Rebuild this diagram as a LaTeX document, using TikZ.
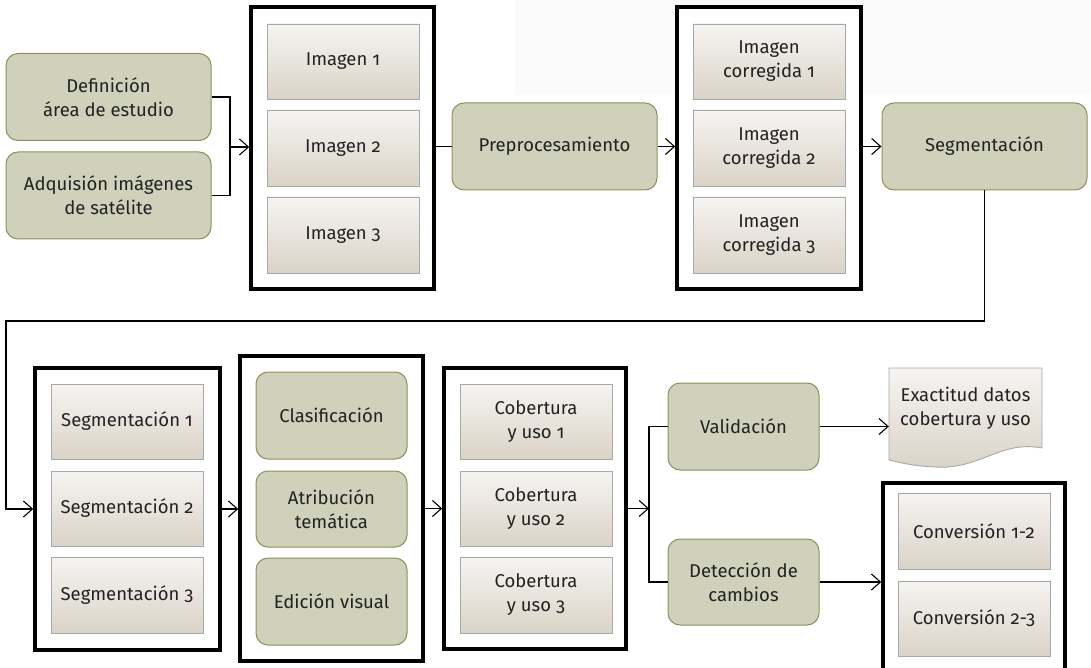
\documentclass[tikz,border=0pt]{standalone}
\usepackage{fontspec}
\setmainfont{Fira Sans}[Numbers=OldStyle]
\usetikzlibrary{arrows.meta,calc}
\definecolor{gfill}{HTML}{CFD1BA}
\definecolor{gdraw}{HTML}{8F8F5A}
\definecolor{itop}{HTML}{F6F4F2}
\definecolor{ibot}{HTML}{DAD3C7}
\definecolor{idraw}{HTML}{A8A8A8}
\definecolor{txt}{HTML}{222222}
\tikzset{
  lbl/.style={align=center, text=txt, font=\fontsize{18.5}{24}\selectfont, inner sep=0pt},
  gbox/.style={lbl, draw=gdraw, fill=gfill, line width=1pt, rounded corners=12pt},
  ibox/.style={lbl, draw=idraw, line width=0.9pt, shading=axis, top color=itop, bottom color=ibot},
  frame/.style={draw=black, line width=3.5pt, fill=white},
  conn/.style={draw=black, line width=1.1pt},
  arr/.style={conn, -{Straight Barb[length=9pt,width=16pt,line width=1.1pt]}},
}
\begin{document}
\begin{tikzpicture}[x=1pt,y=-1pt]
\useasboundingbox (0,0) rectangle (1091,668);
\clip (0,0) rectangle (1091,668);
\fill[black!1.5] (515,0) rectangle (1091,95);
% row 1
\node[gbox, minimum width=205pt, minimum height=87pt] (def) at (108.5,97) {Definición\\área de estudio};
\node[gbox, minimum width=205pt, minimum height=87pt] (adq) at (108.5,195.5) {Adquisión imágenes\\de satélite};
\node[frame, minimum width=183pt, minimum height=282pt] (f1) at (342.5,148) {};
\node[ibox, minimum width=152pt, minimum height=75pt] (i1) at (343,61.5) {Imagen 1};
\node[ibox, minimum width=152pt, minimum height=76pt] (i2) at (343,148) {Imagen 2};
\node[ibox, minimum width=152pt, minimum height=76pt] (i3) at (343,235) {Imagen 3};
\node[gbox, minimum width=205pt, minimum height=87pt] (pre) at (554.5,146.5) {Preprocesamiento};
\node[frame, minimum width=184pt, minimum height=282pt] (f2) at (769,148) {};
\node[ibox, minimum width=152pt, minimum height=75pt] (c1) at (769,61.5) {Imagen\\corregida 1};
\node[ibox, minimum width=152pt, minimum height=76pt] (c2) at (769,148) {Imagen\\corregida 2};
\node[ibox, minimum width=152pt, minimum height=76pt] (c3) at (769,235) {Imagen\\corregida 3};
\node[gbox, minimum width=205pt, minimum height=87pt] (seg) at (984.5,146.5) {Segmentación};
% row 2
\node[frame, minimum width=185pt, minimum height=282pt] (f3) at (127.5,509) {};
\node[ibox, minimum width=152pt, minimum height=75pt] (s1) at (127,421.5) {Segmentación 1};
\node[ibox, minimum width=152pt, minimum height=75pt] (s2) at (127,508.5) {Segmentación 2};
\node[ibox, minimum width=152pt, minimum height=76pt] (s3) at (127,595) {Segmentación 3};
\node[frame, minimum width=183pt, minimum height=305pt] (f4) at (331.5,508.5) {};
\node[gbox, minimum width=151pt, minimum height=87pt] (cla) at (331.5,415.5) {Clasificación};
\node[gbox, minimum width=151pt, minimum height=76pt] (atr) at (331.5,509) {Atribución\\temática};
\node[gbox, minimum width=151pt, minimum height=87pt] (edi) at (331.5,601.5) {Edición visual};
\node[frame, minimum width=182pt, minimum height=281pt] (f5) at (535,508.5) {};
\node[ibox, minimum width=152pt, minimum height=75pt] (u1) at (536,421.5) {Cobertura\\y uso 1};
\node[ibox, minimum width=152pt, minimum height=75pt] (u2) at (536,508.5) {Cobertura\\y uso 2};
\node[ibox, minimum width=152pt, minimum height=76pt] (u3) at (536,595) {Cobertura\\y uso 3};
\node[gbox, minimum width=151pt, minimum height=87pt] (val) at (743.5,426.5) {Validación};
\node[gbox, minimum width=151pt, minimum height=86pt] (det) at (743.5,582) {Detección de\\cambios};
% document shape
\path[draw=idraw, line width=0.9pt, shading=axis, top color=itop, bottom color=ibot]
  (889,368) -- (1042,368) -- (1042,448)
  .. controls (1000,440) and (980,470) .. (935,467)
  .. controls (912,466) and (898,462) .. (889,460) -- cycle;
\node[lbl, minimum width=153pt, minimum height=80pt] (doc) at (965.5,408) {Exactitud datos\\cobertura y uso};
\node[frame, minimum width=182pt, minimum height=210pt] (f6) at (974,588) {};
\node[ibox, minimum width=152pt, minimum height=76pt] (v1) at (974,531) {Conversión 1-2};
\node[ibox, minimum width=152pt, minimum height=75pt] (v2) at (974,618.5) {Conversión 2-3};
% connectors
\coordinate (j1) at (230,147);
\draw[conn] (def.east) -| (j1) |- (adq.east);
\draw[arr] (j1) -- (j1 -| f1.west);
\draw[conn] (f1.east |- pre.west) -- (pre.west);
\draw[arr] (pre.east) -- (pre.east -| f2.west);
\draw[arr] (f2.east |- seg.west) -- (seg.west);
\coordinate (k1) at (6,321);
\draw[arr] (seg.south) |- (k1) |- (f3.west);
\draw[arr] (f3.east) -- (f3.east -| f4.west);
\draw[arr] (f4.east) -- (f4.east -| f5.west);
\coordinate (j2) at (649,508.5);
\draw[arr] (f5.east) -- (j2);
\draw[conn] (val.west) -| (j2) |- (det.west);
\draw[arr] (val.east) -- (val.east -| doc.west);
\draw[arr] (det.east) -- (det.east -| f6.west);
\end{tikzpicture}
\end{document}
